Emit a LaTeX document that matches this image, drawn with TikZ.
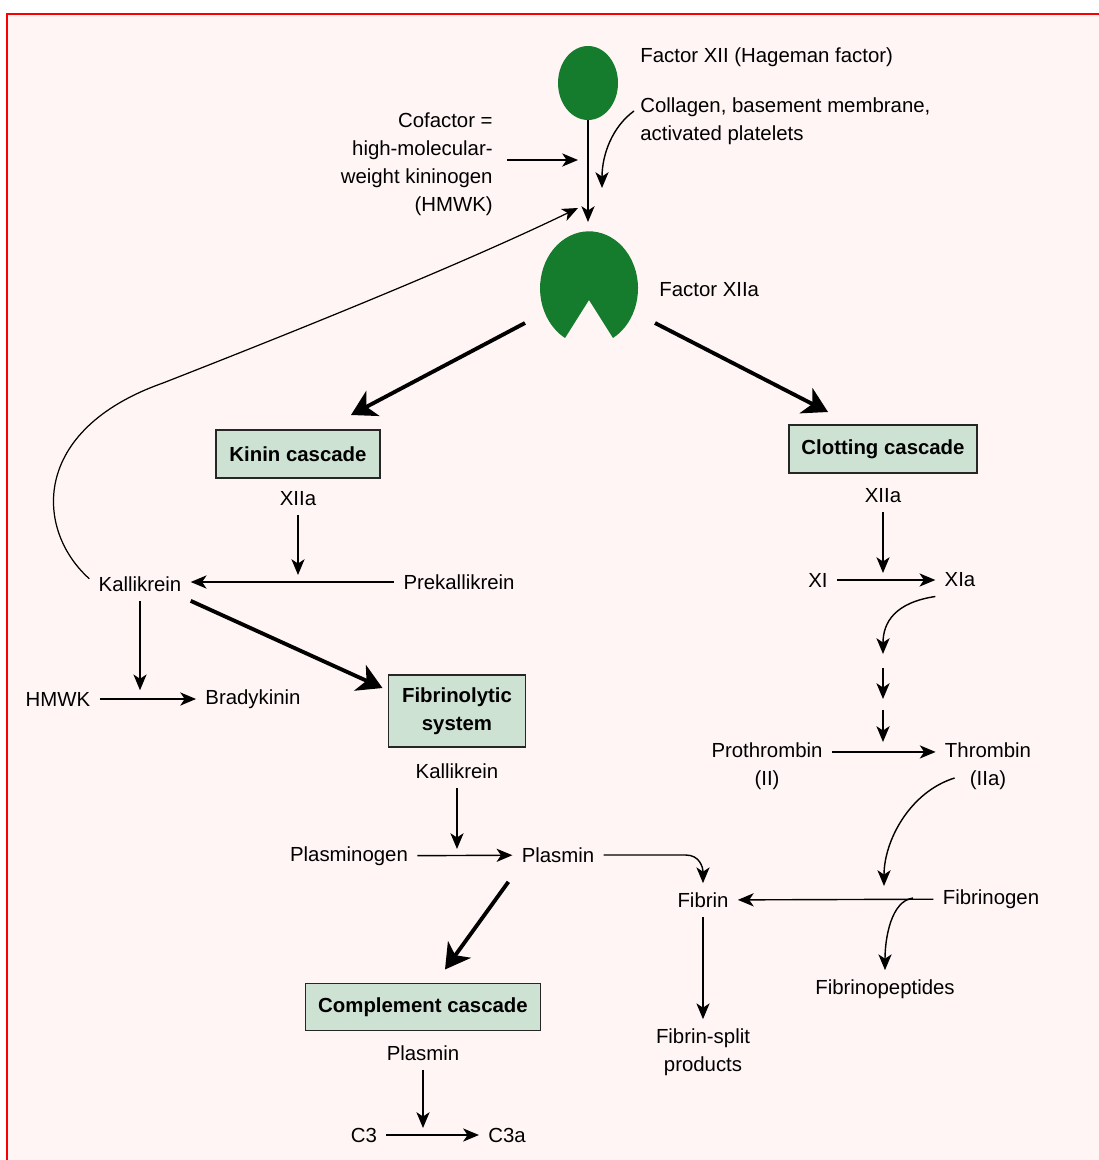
\documentclass[tikz,border=0pt]{standalone}
\usepackage{fontspec}
\setmainfont{Liberation Sans}
\usetikzlibrary{arrows.meta,shapes.geometric}
\definecolor{pagepink}{RGB}{255,245,245}
\definecolor{framered}{RGB}{250,0,0}
\definecolor{xiigreen}{RGB}{21,124,46}
\definecolor{cascfill}{RGB}{206,226,212}
\begin{document}
\begin{tikzpicture}[x=0.02cm,y=-0.02cm,
  every node/.style={font=\fontsize{11.6pt}{15.9pt}\selectfont,outer sep=2pt},
  cascade/.style={draw=black!85,line width=1.1pt,fill=cascfill,outer sep=0pt,
    font=\fontsize{11.6pt}{15.9pt}\selectfont\bfseries,align=center,
    inner xsep=2pt,minimum height=0.96cm},
  arr/.style={-{Stealth[length=9pt,width=7.5pt,inset=2.5pt]},line width=0.8pt},
  bigarr/.style={-{Stealth[length=14pt,width=16pt,inset=4pt]},line width=2.2pt}]
\useasboundingbox (0,0) rectangle (1099,1160);
\fill[white] (0,0) rectangle (1099,1160);
\fill[pagepink] (7,14) rectangle (1099,1160);
\draw[framered,line width=1.7pt] (7,1160) -- (7,14) -- (1099,14);

\node[ellipse,fill=xiigreen,minimum width=1.2cm,minimum height=1.48cm,inner sep=0pt,outer sep=0pt] (f12) at (588,83) {};
\fill[xiigreen] (589,300) -- (613,338) arc[start angle=-60.7,end angle=240.7,x radius=0.98cm,y radius=1.14cm] -- cycle;
\coordinate (f12a) at (589,289);
\node[anchor=west] (f12lab) at (631,57) {Factor XII (Hageman factor)};
\node[anchor=west,align=left] (surf) at (631,121) {Collagen, basement membrane,\\activated platelets};
\node[anchor=east,align=right] (cof) at (502,164) {Cofactor =\\high-molecular-\\weight kininogen\\(HMWK)};
\node[anchor=west] (f12alab) at (650,290) {Factor XIIa};

\coordinate (f12in) at (588,222);
\coordinate (cofout) at (507,160);
\coordinate (cofin) at (578,160);
\coordinate (surfout) at (634,111);
\coordinate (surfin) at (602,188);
\coordinate (fbtip) at (578,208);
\draw[arr] (f12.south) -- (f12in);
\draw[arr] (cofout) -- (cofin);
\draw[arr] (surfout) .. controls (612,127) and (602,155) .. (surfin);

\node[cascade,minimum width=3.28cm] (kinin) at (298,454) {Kinin cascade};
\node[cascade,minimum width=3.76cm] (clot) at (883,449) {Clotting cascade};
\draw[bigarr] ([shift={(-64,34)}]f12a) -- ([shift={(-29,-15)}]kinin.north east);
\draw[bigarr] ([shift={(66,34)}]f12a) -- ([shift={(39,-13)}]clot.north west);

\node (kx) at (298,499) {XIIa};
\node (kal) at (140,584) {Kallikrein};
\node (prek) at (459,582) {Prekallikrein};
\node (hmwk) at (58,699) {HMWK};
\node (brady) at (253,699) {Bradykinin};
\draw[arr] (prek.west) -- (kal.east |- prek.west);
\draw[arr,shorten >=4pt] (kx) -- (kx |- prek.west);
\draw[arr] (hmwk) -- (brady);
\draw[arr,shorten >=5pt] (kal) -- (kal |- hmwk.east);
\draw[arr,line width=0.7pt] ([yshift=3pt]kal.west) .. controls (35,530) and (30,430) .. (163,383)
  .. controls (260,345) and (450,270) .. (fbtip);

\node[cascade,minimum width=2.74cm,minimum height=1.44cm] (fib) at (457,711) {Fibrinolytic\\system};
\draw[bigarr] (kal.south east) -- ([shift={(-6,13)}]fib.north west);
\node (fkal) at (457,771) {Kallikrein};
\node (plg) at (349,856) {Plasminogen};
\node (pls) at (558,855) {Plasmin};
\draw[arr] (plg) -- (pls);
\draw[arr,shorten >=4pt] (fkal) -- (fkal |- plg.east);

\node[cascade,minimum width=4.7cm,minimum height=0.94cm] (comp) at (423,1007) {Complement cascade};
\draw[bigarr] ([shift={(-4,10)}]pls.south west) -- ([shift={(22,-14)}]comp.north);
\node (cpl) at (423,1053) {Plasmin};
\node (c3) at (364,1135) {C3};
\node (c3a) at (507,1135) {C3a};
\draw[arr] (c3) -- (c3a);
\draw[arr,shorten >=4pt] (cpl) -- (cpl |- c3.east);

\node (fibrin) at (703,900) {Fibrin};
\node[align=center] (fsp) at (703,1052) {Fibrin-split\\products};
\draw[arr] (pls.east) -- ++(82,0) .. controls +(14,0) and +(0,-16) .. (fibrin.north);
\draw[arr] (fibrin) -- (fsp);

\node (cx) at (883,496) {XIIa};
\node (xi) at (818,580) {XI};
\node (xia) at (960,580) {XIa};
\draw[arr] (xi) -- (xia);
\draw[arr,shorten >=4pt] (cx) -- (cx |- xi.east);
\coordinate (casc1) at (883,654);
\coordinate (casc2a) at (883,668);
\coordinate (casc2b) at (883,699);
\coordinate (casc3a) at (883,710);
\coordinate (casc3b) at (883,742);
\draw[arr] (xia.south west) .. controls +(-40,6) and +(0,-32) .. (casc1);
\draw[arr] (casc2a) -- (casc2b);
\draw[arr] (casc3a) -- (casc3b);

\node[align=center] (prot) at (767,766) {Prothrombin\\(II)};
\node[align=center] (thr) at (988,766) {Thrombin\\(IIa)};
\draw[arr] ([yshift=8pt]prot.east) -- ([yshift=8pt]thr.west);
\node (fgn) at (991,899) {Fibrinogen};
\node (fpep) at (885,989) {Fibrinopeptides};
\coordinate (thrhit) at (884,886);
\coordinate (fbranch) at (913,898);
\draw[arr] ([shift={(19,12)}]thr.west) .. controls +(-45,14) and +(0,-45) .. (thrhit);
\draw[arr] (fgn) -- (fibrin);
\draw[arr] (fbranch) .. controls +(-22,3) and +(0,-32) .. (fpep.north);
\end{tikzpicture}
\end{document}
